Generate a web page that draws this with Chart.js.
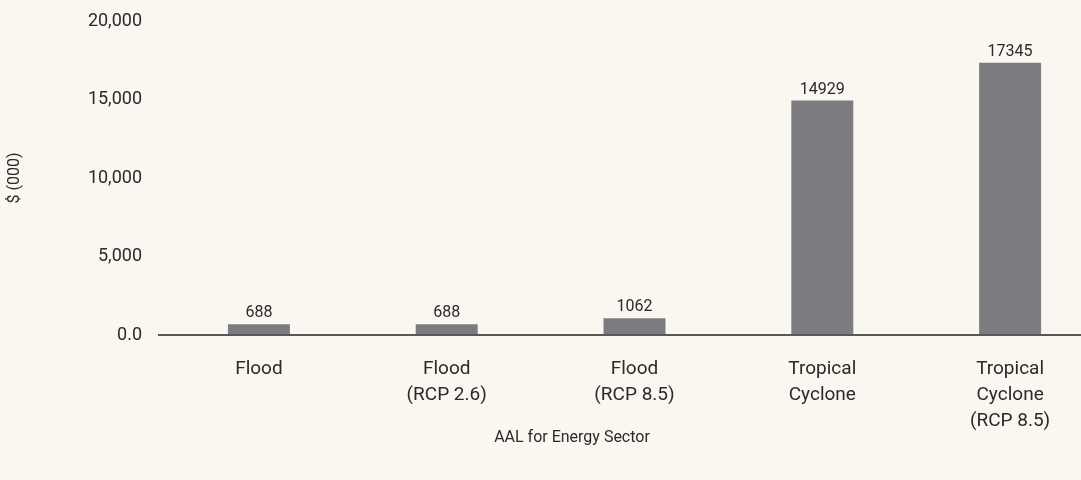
<!DOCTYPE html>
<html>
<head>
<meta charset="utf-8">
<script src="https://cdn.jsdelivr.net/npm/chart.js@4.4.1/dist/chart.umd.min.js"></script>
<style>
  html, body { margin: 0; padding: 0; background: #f9f7f0; overflow: hidden; }
  #wrap { position: relative; width: 1104px; height: 480px; }
</style>
</head>
<body>
<div id="wrap"><canvas id="chart"></canvas></div>
<script>
// Annual average loss by hazard scenario, $ thousands
const categories = [
  ['Flood'],
  ['Flood', '(RCP 2.6)'],
  ['Flood', '(RCP 8.5)'],
  ['Tropical', 'Cyclone'],
  ['Tropical', 'Cyclone', '(RCP 8.5)']
];
const aalValues = [688, 688, 1062, 14929, 17345];
const yTickLabels = ['0.0', '5,000', '10,000', '15,000', '20,000'];
const xTitle = 'AAL for Energy Sector';

const TEXT = '#2a2a2a';
const BAR = '#7c7b80';

// Value labels above each bar, the baseline running past the axis edge,
// and the x-axis caption
const barExtras = {
  id: 'barExtras',
  afterDatasetsDraw(chart) {
    const { ctx, chartArea } = chart;
    const y0 = chart.scales.y.getPixelForValue(0);
    ctx.save();
    ctx.strokeStyle = '#58585a';
    ctx.lineWidth = 2;
    ctx.beginPath();
    ctx.moveTo(chartArea.left - 7, y0);
    ctx.lineTo(chart.width, y0);
    ctx.stroke();

    ctx.fillStyle = TEXT;
    ctx.font = '16px Roboto';
    ctx.textAlign = 'center';
    ctx.textBaseline = 'alphabetic';
    chart.getDatasetMeta(0).data.forEach((bar, i) => {
      ctx.fillText(String(aalValues[i]), bar.x, bar.y - 7);
    });

    ctx.font = '16px Roboto';
    ctx.textBaseline = 'middle';
    ctx.fillText(xTitle, 572, 438);
    ctx.restore();
  }
};

new Chart(document.getElementById('chart'), {
  type: 'bar',
  data: {
    labels: categories,
    datasets: [{
      data: aalValues,
      backgroundColor: BAR,
      borderWidth: 0,
      categoryPercentage: 1,
      barPercentage: 0.33
    }]
  },
  options: {
    responsive: true,
    maintainAspectRatio: false,
    animation: false,
    layout: { padding: { top: 21, right: 0, left: 0, bottom: 0 } },
    plugins: {
      legend: { display: false },
      tooltip: { enabled: false }
    },
    scales: {
      x: {
        grid: { display: false, drawTicks: false },
        border: { display: false },
        ticks: {
          color: TEXT,
          font: { family: 'Roboto', size: 19, lineHeight: 1.37 },
          padding: 21,
          maxRotation: 0,
          autoSkip: false
        },
        afterFit(scale) { scale.height = 145; }
      },
      y: {
        min: 0,
        max: 20000,
        grid: { display: false, drawTicks: false },
        border: { display: false },
        ticks: {
          stepSize: 5000,
          color: TEXT,
          font: { family: 'Roboto', size: 18 },
          padding: 23,
          callback: (v, i) => yTickLabels[i]
        },
        title: {
          display: true,
          text: '$ (000)',
          color: TEXT,
          font: { family: 'Roboto', size: 16 },
          padding: { top: 5, bottom: 0 }
        },
        afterFit(scale) {
          scale.width = 165;
          // let the layout padding alone set the top edge of the plot
          scale.paddingTop = 0;
          scale.paddingBottom = 0;
        }
      }
    }
  },
  plugins: [barExtras]
});
</script>
</body>
</html>
